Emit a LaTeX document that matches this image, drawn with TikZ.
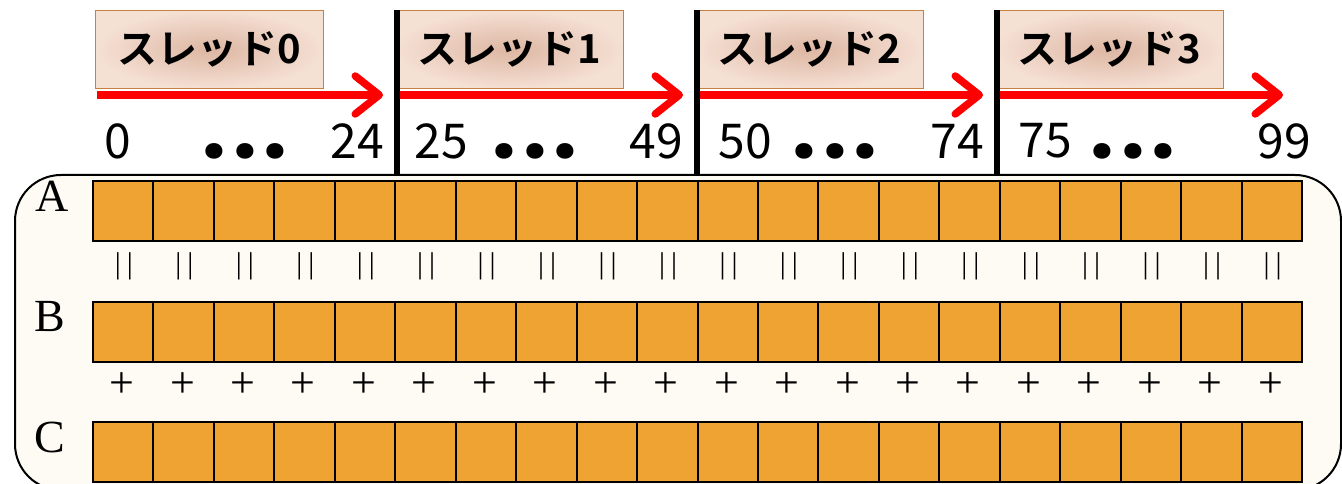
\documentclass[tikz,border=0pt]{standalone}
\usepackage{fontspec}
\setmainfont{Liberation Serif}
\newfontfamily\jpfont{Noto Sans CJK JP}
\newfontfamily\jpbold{Noto Sans CJK JP Bold}
\newfontfamily\dotfont{Poppins}
\usetikzlibrary{arrows.meta}
\definecolor{cellfill}{HTML}{EEA332}
\definecolor{panelfill}{HTML}{FDFBF4}
\definecolor{tagin}{HTML}{DDB6A2}
\definecolor{tagout}{HTML}{F5E0D4}
\definecolor{tagborder}{HTML}{C8803F}
\definecolor{arrowred}{HTML}{FF0000}
\tikzset{
  cell/.style={draw=black, line width=2pt, fill=cellfill, minimum width=60.45pt, minimum height=60pt, inner sep=0pt, anchor=north west},
  rowlabel/.style={font=\fontsize{46}{46}\selectfont, inner sep=0pt},
  tag/.style={draw=tagborder, line width=1.2pt, inner color=tagin, outer color=tagout, minimum width=228pt, minimum height=78pt, anchor=north west, inner sep=0pt, font=\jpbold\fontsize{40}{40}\selectfont},
  sep/.style={line width=6pt, black},
  thread/.style={line width=7.5pt, arrowred, -{Straight Barb[length=24pt, width=38pt, round]}},
  num/.style={font=\jpfont\fontsize{48}{48}\selectfont, inner sep=0pt},
  dots/.style={font=\dotfont\bfseries\fontsize{84}{84}\selectfont, inner sep=0pt, anchor=base},
  eq/.style={font=\fontsize{30}{30}\selectfont, inner sep=0pt},
  plus/.style={font=\fontsize{44}{44}\selectfont, inner sep=0pt},
}
\begin{document}
\begin{tikzpicture}[x=1pt, y=-1pt]
\useasboundingbox (0,0) rectangle (1342,484);
% panel
\draw[line width=2pt, fill=panelfill, rounded corners=46pt] (15,175) rectangle (1341,490);
% thread tags
\foreach \k in {0,1,2,3} {
  \node[tag] (tag\k) at ({95+300*\k},10) {スレッド\k};
}
% arrows
\foreach \k in {0,1,2,3} {
  \coordinate (as\k) at ({97+300*\k},95);
  \coordinate (ae\k) at ({383+300*\k},95);
  \draw[thread] (as\k) -- (ae\k);
}
% separators
\foreach \k in {1,2,3} {
  \coordinate (st\k) at ({97+300*\k},10);
  \coordinate (sb\k) at ({97+300*\k},176);
  \draw[sep] (st\k) -- (sb\k);
}
% numbers
\node[num] (n0) at (118,141) {0};
\node[num] (n24) at (357,141) {24};
\node[num] (n25) at (441,141) {25};
\node[num] (n49) at (656,141) {49};
\node[num] (n50) at (745,141) {50};
\node[num] (n74) at (957,141) {74};
\node[num] (n75) at (1045,141) {75};
\node[num] (n99) at (1284,141) {99};
\node[dots] (d0) at (245,159) {.\kern7pt.\kern7pt.};
\node[dots] (d1) at (535,159) {.\kern7pt.\kern7pt.};
\node[dots] (d2) at (835,159) {.\kern7pt.\kern7pt.};
\node[dots] (d3) at (1133,159) {.\kern7pt.\kern7pt.};
% rows
\foreach \r/\y in {A/180,B/301,C/421} {
  \foreach \i in {0,...,19} {
    \node[cell] (\r\i) at ({92+60.45*\i},\y) {};
  }
}
\node[rowlabel] (lA) at (52,196) {A};
\node[rowlabel] (lB) at (50,317) {B};
\node[rowlabel] (lC) at (50,437) {C};
\foreach \i in {0,...,19} {
  \node[eq] (e\i) at ({124+60.45*\i},266) {|\kern6pt|};
  \node[plus] (p\i) at ({122+60.45*\i},385) {+};
}
\end{tikzpicture}
\end{document}
